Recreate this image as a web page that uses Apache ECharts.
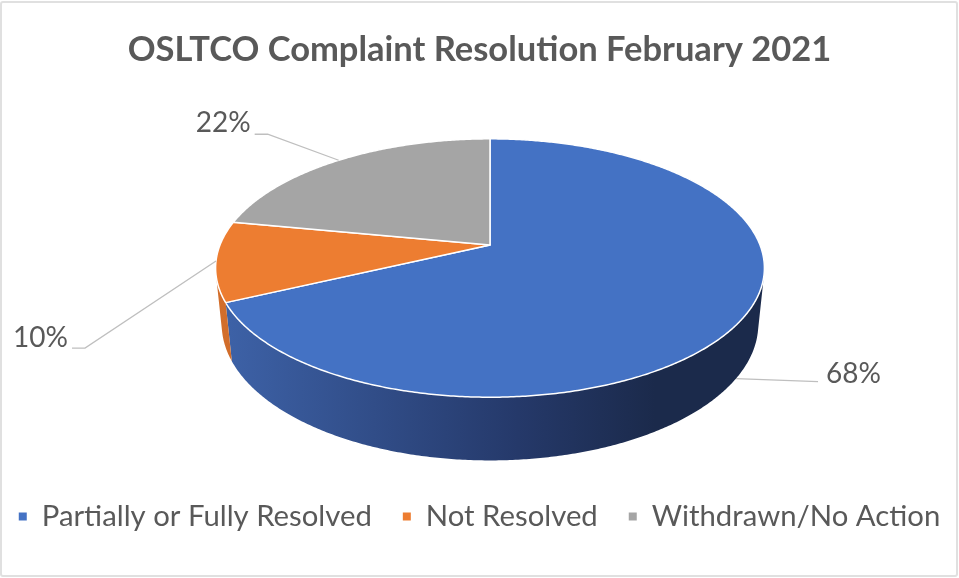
<!DOCTYPE html>
<html lang="en">
<head>
<meta charset="UTF-8">
<title>OSLTCO Complaint Resolution February 2021</title>
<script src="https://cdn.jsdelivr.net/npm/echarts@6/dist/echarts.min.js"></script>
<style>html,body{margin:0;padding:0;background:#fff;}</style>
</head>
<body>
<div id="main" style="width:959px;height:578px;"></div>
<script>
// data
var categories = ['Partially or Fully Resolved', 'Not Resolved', 'Withdrawn/No Action'];
var values = [68, 10, 22];

// styles
var colors = ['#4472C4', '#ED7D31', '#A5A5A5'];
var wallStops = [
    ['#3e63a9', '#25396a', '#1b2a4b'],
    ['#d36e2b', '#b35a20', '#8e4719'],
    ['#909090', '#777777', '#5e5e5e']
];
// label leader: knee / end offsets from anchor, text offset from end
var labelLayout = [
    {knee: [82, 3], end: [82, 3], text: [8, -8], align: 'left'},
    {knee: [-131, 87], end: [-144, 87], text: [-4, -10], align: 'right'},
    {knee: [-71, -26], end: [-84, -26], text: [-4, -11], align: 'right'}
];

// 3d view of the pie (tilted disc, perspective)
var view = {cx: 490, cy: 245, r: 270, depth: 64, tilt: 27.6, dist: 1343};
var sinA = Math.sin(view.tilt * Math.PI / 180);
var cosA = Math.cos(view.tilt * Math.PI / 180);
// front part of the rim that faces the viewer
var visLimit = Math.acos(-view.r / (view.dist * cosA)) * 180 / Math.PI;
var visMin = visLimit, visMax = 360 - visLimit;

var total = values.reduce(function (a, b) { return a + b; }, 0);
var starts = [];
var acc = 0;
values.forEach(function (v) { starts.push(acc / total * 360); acc += v; });

// theta: degrees clockwise from 12 o'clock, h: 0 on top face, -depth at bottom
function project(theta, h) {
    var t = theta * Math.PI / 180;
    var X = view.r * Math.sin(t);
    var Z = view.r * Math.cos(t);
    var w = Z * cosA - h * sinA;
    var s = view.dist / (view.dist + w);
    return [view.cx + X * s, view.cy + (-Z * sinA - h * cosA) * s];
}

function arc(a0, a1, h) {
    var pts = [];
    var n = Math.max(2, Math.ceil(Math.abs(a1 - a0) / 0.5));
    for (var i = 0; i <= n; i++) {
        pts.push(project(a0 + (a1 - a0) * i / n, h));
    }
    return pts;
}

function renderSlice(params, api) {
    var idx = params.seriesIndex;
    var value = api.value(0);
    var a0 = starts[idx];
    var a1 = a0 + value / total * 360;
    var children = [];

    // side wall
    var w0 = Math.max(a0, visMin), w1 = Math.min(a1, visMax);
    if (w1 > w0) {
        var wall = arc(w0, w1, 0).concat(arc(w1, w0, -view.depth));
        var st = wallStops[idx];
        children.push({
            type: 'polygon',
            shape: {points: wall},
            style: {
                fill: new echarts.graphic.LinearGradient(215, 0, 765, 0, [
                    {offset: 0, color: st[0]},
                    {offset: 0.55, color: st[1]},
                    {offset: 0.8, color: st[2]},
                    {offset: 1, color: st[2]}
                ], true),
                stroke: null
            }
        });
    }

    // top face
    var top = [[view.cx, view.cy]].concat(arc(a0, a1, 0));
    children.push({
        type: 'polygon',
        shape: {points: top},
        style: {fill: colors[idx], stroke: '#ffffff', lineWidth: 1.5, lineJoin: 'round'}
    });

    // data label with leader line
    var mid = (a0 + a1) / 2;
    var anchor = (mid > visMin && mid < visMax) ? project(mid, -view.depth) : project(mid, 0);
    var lay = labelLayout[idx];
    var knee = [anchor[0] + lay.knee[0], anchor[1] + lay.knee[1]];
    var end = [anchor[0] + lay.end[0], anchor[1] + lay.end[1]];
    children.push({
        type: 'polyline',
        shape: {points: [anchor, knee, end]},
        style: {stroke: '#bfbfbf', lineWidth: 1.3, fill: null}
    });
    children.push({
        type: 'text',
        style: {
            text: Math.round(value / total * 100) + '%',
            x: end[0] + lay.text[0],
            y: end[1] + lay.text[1],
            fill: '#595959',
            fontSize: 28,
            fontFamily: 'Lato',
            align: lay.align,
            verticalAlign: 'middle'
        }
    });

    return {type: 'group', children: children};
}

var chart = echarts.init(document.getElementById('main'));

var series = categories.map(function (name, i) {
    return {
        type: 'custom',
        name: name,
        coordinateSystem: 'none',
        silent: true,
        itemStyle: {color: colors[i]},
        renderItem: renderSlice,
        data: [[values[i]]]
    };
});

chart.setOption({
    animation: false,
    title: {
        text: 'OSLTCO Complaint Resolution February 2021',
        left: 'center',
        top: 27,
        textStyle: {color: '#595959', fontSize: 34.5, fontWeight: 'bold', fontFamily: 'Lato'}
    },
    legend: {
        data: categories,
        top: 497,
        left: 'center',
        icon: 'rect',
        itemWidth: 8,
        itemHeight: 8,
        itemGap: 31,
        selectedMode: false,
        textStyle: {color: '#595959', fontSize: 29.3, fontFamily: 'Lato', padding: [0, 0, 0, 10]}
    },
    graphic: [{
        type: 'rect',
        shape: {x: 1, y: 2, width: 956, height: 574, r: 2},
        style: {fill: null, stroke: '#e0e0e0', lineWidth: 2},
        silent: true
    }],
    series: series
});
</script>
</body>
</html>
